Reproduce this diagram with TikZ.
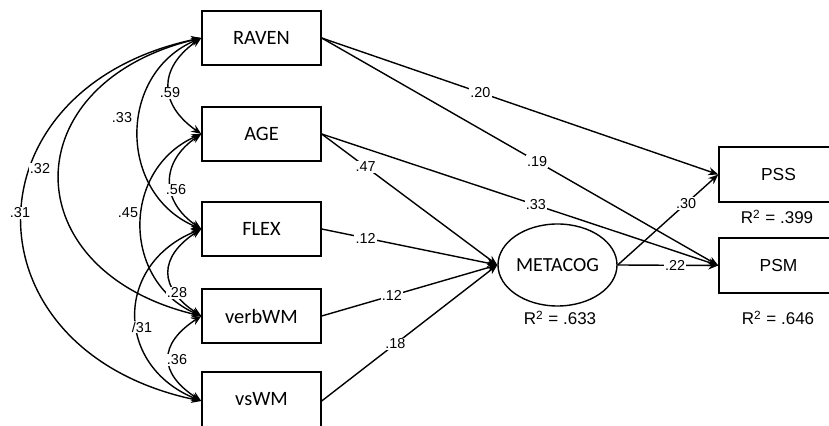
\documentclass[tikz,border=0pt]{standalone}
\usepackage{fontspec}
\setmainfont{Liberation Sans}
\newfontfamily\carfont{Carlito}
\usetikzlibrary{arrows.meta,shapes.geometric}
\begin{document}
\begin{tikzpicture}[x=0.5pt,y=-0.5pt,
  line width=0.7pt,
  box/.style={draw, rectangle, minimum width=59.5pt, minimum height=27pt, inner sep=0pt, font=\carfont\fontsize{10.2}{12}\selectfont},
  obox/.style={draw, rectangle, minimum width=59.5pt, minimum height=27.5pt, inner sep=0pt, font=\fontsize{8.7}{10}\selectfont},
  latent/.style={draw, ellipse, minimum width=59.5pt, minimum height=41pt, inner sep=0pt, font=\carfont\fontsize{10}{12}\selectfont},
  arr/.style={-{Stealth[length=5pt,width=4pt]}},
  cov/.style={{Stealth[length=5pt,width=4pt]}-{Stealth[length=5pt,width=4pt]}},
  lab/.style={fill=white, inner sep=0.6pt, font=\fontsize{7.2}{8}\selectfont},
  rsq/.style={inner sep=0pt, font=\fontsize{8.5}{10}\selectfont}]
\useasboundingbox (0,0) rectangle (829,426);
% observed variables
\node[box] (raven) at (261.5,38) {RAVEN};
\node[box] (age) at (261.5,134) {AGE};
\node[box] (flex) at (261.5,229) {FLEX};
\node[box] (verbwm) at (261.5,316) {verbWM};
\node[box, minimum height=29pt, text depth=0pt] (vswm) at (261.5,401) {\raisebox{2pt}{vsWM}};
\node[obox] (pss) at (778.5,174.5) {PSS};
\node[obox] (psm) at (778.5,265.5) {PSM};
\node[latent] (metacog) at (557.5,265) {METACOG};
% R squared
\node[rsq] (r1) at (560,318) {R\textsuperscript{2} = .633};
\node[rsq] (r2) at (777,217) {R\textsuperscript{2} = .399};
\node[rsq] (r3) at (778,318) {R\textsuperscript{2} = .646};
% paths
\draw[arr] (raven.east) -- node[lab,pos=0.4] (l20) {.20} (pss.west);
\draw[arr] (raven.east) -- node[lab,pos=0.543] (l19) {.19} (psm.west);
\draw[arr] (age.east) -- node[lab,pos=0.25] (l47) {.47} (metacog.west);
\draw[arr] (age.east) -- node[lab,pos=0.54] (l33b) {.33} (psm.west);
\draw[arr] (flex.east) -- node[lab,pos=0.25] (l12a) {.12} (metacog.west);
\draw[arr] (verbwm.east) -- node[lab,pos=0.4] (l12b) {.12} (metacog.west);
\draw[arr] (vswm.east) -- node[lab,pos=0.42] (l18) {.18} (metacog.west);
\draw[arr] (metacog.east) -- node[lab,pos=0.68] (l30) {.30} (pss.west);
\draw[arr] (metacog.east) -- node[lab,pos=0.57] (l22) {.22} (psm.west);
% covariances
\draw[cov] (raven.west) .. controls +(-43,30) and +(-43,-30) .. (age.west);
\draw[cov] (raven.west) .. controls +(-84,35) and +(-84,-35) .. (flex.west);
\draw[cov] (raven.west) .. controls +(-189,45) and +(-189,-45) .. (verbwm.west);
\draw[cov] (raven.west) .. controls +(-239,50) and +(-239,-50) .. (vswm.west);
\draw[cov] (age.west) .. controls +(-41,28) and +(-41,-28) .. (flex.west);
\draw[cov] (age.west) .. controls +(-80,35) and +(-80,-35) .. (verbwm.west);
\draw[cov] (flex.west) .. controls +(-43,28) and +(-43,-28) .. (verbwm.west);
\draw[cov] (flex.west) .. controls +(-87,35) and +(-87,-35) .. (vswm.west);
\draw[cov] (verbwm.west) .. controls +(-43,28) and +(-43,-28) .. (vswm.west);
% covariance labels
\node[lab] (c59) at (170,93) {.59};
\node[lab] (c33) at (122,118) {.33};
\node[lab] (c32) at (40,169) {.32};
\node[lab] (c31) at (20,213) {.31};
\node[lab] (c56) at (176,190) {.56};
\node[lab] (c45) at (128,213) {.45};
\node[lab] (c28) at (177,293) {.28};
\node[lab] (c31b) at (142,327) {/31};
\node[lab] (c36) at (177,360) {.36};
\end{tikzpicture}
\end{document}
